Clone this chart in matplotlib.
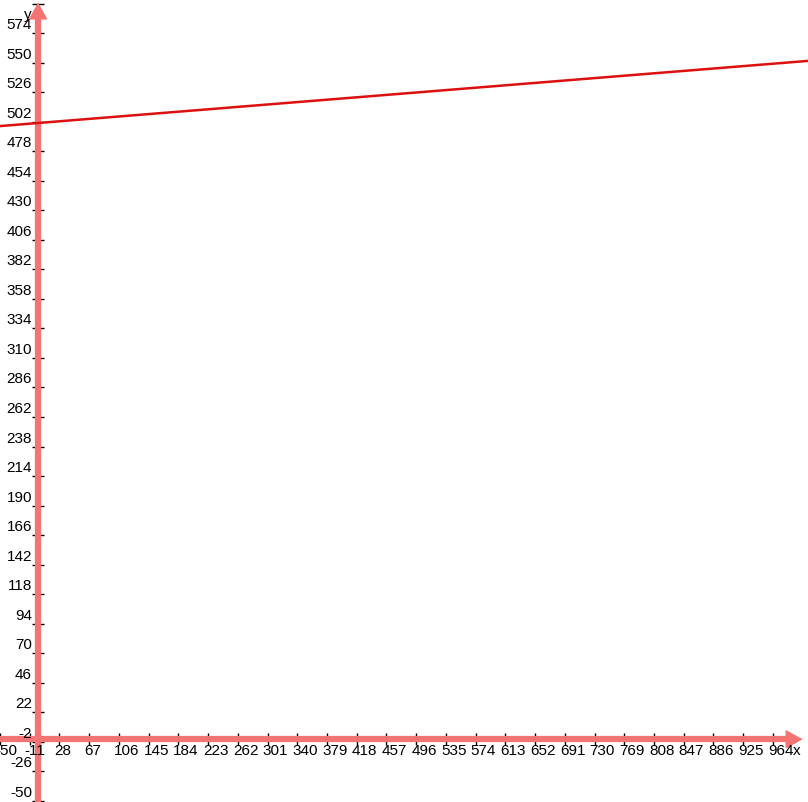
import numpy as np
import matplotlib.pyplot as plt

# axis window and tick values
x_ticks = [-50, -11, 28, 67, 106, 145, 184, 223, 262, 301, 340, 379, 418, 457,
           496, 535, 574, 613, 652, 691, 730, 769, 808, 847, 886, 925, 964]
y_ticks = [-50, -26, -2, 22, 46, 70, 94, 118, 142, 166, 190, 214, 238, 262, 286,
           310, 334, 358, 382, 406, 430, 454, 478, 502, 526, 550, 574, 598]

# the plotted line (two ends)
line_x = [-50, 1010]
line_y = [498.5, 551.5]

xmin, xmax = -50, 1010
ymin, ymax = -51, 601

axis_col = '#f47474'
line_col = '#dd1010'

plt.rcParams['font.family'] = ['Liberation Sans', 'DejaVu Sans']

fig = plt.figure(figsize=(8.08, 8.02), dpi=100)
ax = fig.add_axes([0, 0, 1, 1])
ax.set_xlim(xmin, xmax)
ax.set_ylim(ymin, ymax)
ax.axis('off')

# tick marks
ax.plot(x_ticks, np.zeros(len(x_ticks)), ls='none', marker='|', ms=8,
        mew=1, color='black', zorder=1)
ax.plot(np.zeros(len(y_ticks)), y_ticks, ls='none', marker='_', ms=8,
        mew=1, color='black', zorder=1)

# axis lines drawn over the tick marks, with arrow heads
ax.plot([xmin, xmax - 15], [0, 0], color=axis_col, lw=4.5, zorder=2,
        solid_capstyle='butt')
ax.plot([0, 0], [ymin, ymax - 8], color=axis_col, lw=4.5, zorder=2,
        solid_capstyle='butt')
head = dict(arrowstyle='-|>,head_length=0.9,head_width=0.5', lw=1,
            color=axis_col, shrinkA=0, shrinkB=0, mutation_scale=12)
ax.annotate('', xy=(xmax - 7, 0), xytext=(xmax - 30, 0), arrowprops=head)
ax.annotate('', xy=(0, ymax - 2), xytext=(0, ymax - 20), arrowprops=head)

for t in x_ticks:
    ax.annotate(str(t), (t, 0), xytext=(-5, -5), textcoords='offset pixels',
                ha='left', va='top', fontsize=11, color='black',
                annotation_clip=False)
for t in y_ticks:
    ax.annotate(str(t), (0, t), xytext=(-6, 8), textcoords='offset pixels',
                ha='right', va='center', fontsize=11, color='black',
                annotation_clip=False)

ax.annotate('x', (964, 0), xytext=(20, -5), textcoords='offset pixels',
            ha='left', va='top', fontsize=11)
ax.annotate('y', (0, ymax), xytext=(-10, -15), textcoords='offset pixels',
            ha='center', va='center', fontsize=11)

ax.plot(line_x, line_y, color=line_col, lw=1.8, zorder=3)

fig.savefig('out.png', dpi=100)
